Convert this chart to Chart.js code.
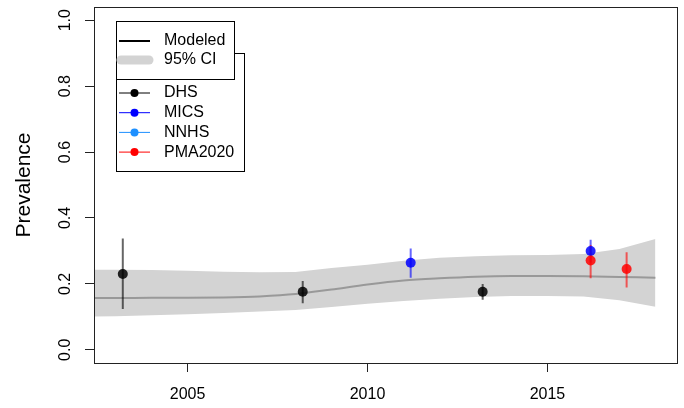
<!DOCTYPE html>
<html>
<head>
<meta charset="utf-8">
<script src="https://cdn.jsdelivr.net/npm/chart.js@4.4.1/dist/chart.umd.min.js"></script>
<style>
  html, body { margin: 0; padding: 0; background: #fff; }
</style>
</head>
<body>
<canvas id="chart" width="684" height="408"></canvas>
<script>
// modeled prevalence and its 95% CI, by year
var modelYears = [2002, 2003, 2004, 2005, 2006, 2007, 2008, 2009, 2010, 2011, 2012, 2013, 2014, 2015, 2016, 2017, 2018];
var modeled    = [0.157, 0.157, 0.158, 0.158, 0.159, 0.162, 0.169, 0.183, 0.198, 0.210, 0.217, 0.222, 0.224, 0.224, 0.223, 0.221, 0.219];
var ciLower    = [0.100, 0.102, 0.105, 0.108, 0.112, 0.116, 0.121, 0.130, 0.140, 0.148, 0.155, 0.160, 0.163, 0.163, 0.162, 0.150, 0.131];
var ciUpper    = [0.243, 0.243, 0.242, 0.240, 0.237, 0.235, 0.236, 0.248, 0.258, 0.270, 0.279, 0.284, 0.287, 0.288, 0.291, 0.306, 0.336];

// survey estimates
var dhsYears  = [2003.2, 2008.2, 2013.2];
var dhsValues = [0.230, 0.176, 0.176];
var dhsLower  = [0.124, 0.141, 0.152];
var dhsUpper  = [0.338, 0.209, 0.200];

var micsYears  = [2011.2, 2016.2];
var micsValues = [0.264, 0.300];
var micsLower  = [0.219, 0.265];
var micsUpper  = [0.307, 0.334];

var nnhsYears  = [];
var nnhsValues = [];
var nnhsLower  = [];
var nnhsUpper  = [];

var pmaYears  = [2016.2, 2017.2];
var pmaValues = [0.271, 0.245];
var pmaLower  = [0.217, 0.189];
var pmaUpper  = [0.318, 0.296];

var xTicks = [2005, 2010, 2015];
var yTicks = [0, 0.2, 0.4, 0.6, 0.8, 1.0];

var sourceNames  = ['DHS', 'MICS', 'NNHS', 'PMA2020'];
var sourceColors = ['#000000', '#0000ff', '#1e90ff', '#ff0000'];

var FONT = '"Liberation Sans", Arial, Helvetica, sans-serif';

function pts(xs, ys) {
  return xs.map(function (x, i) { return { x: x, y: ys[i] }; });
}
// vertical segments, broken by gaps
function bars(xs, lo, hi) {
  var out = [];
  xs.forEach(function (x, i) {
    out.push({ x: x, y: lo[i] }, { x: x, y: hi[i] }, { x: x, y: null });
  });
  return out;
}
function rgba(hex, a) {
  var n = parseInt(hex.slice(1), 16);
  return 'rgba(' + (n >> 16) + ',' + ((n >> 8) & 255) + ',' + (n & 255) + ',' + a + ')';
}

var surveys = [
  [dhsYears, dhsValues, dhsLower, dhsUpper],
  [micsYears, micsValues, micsLower, micsUpper],
  [nnhsYears, nnhsValues, nnhsLower, nnhsUpper],
  [pmaYears, pmaValues, pmaLower, pmaUpper]
];

var datasets = [
  { label: 'lower', data: pts(modelYears, ciLower), borderWidth: 0, pointRadius: 0, fill: false, order: 20, clip: 0 },
  { label: '95% CI', data: pts(modelYears, ciUpper), borderWidth: 0, pointRadius: 0, fill: '-1',
    backgroundColor: '#d3d3d3', order: 19, clip: 0 },
  { label: 'Modeled', data: pts(modelYears, modeled), borderColor: '#999999', borderWidth: 2,
    pointRadius: 0, fill: false, order: 18, clip: 0, cubicInterpolationMode: 'monotone' }
];
surveys.forEach(function (s, i) {
  datasets.push({
    label: sourceNames[i] + ' CI', data: bars(s[0], s[2], s[3]), borderColor: rgba(sourceColors[i], 0.6),
    borderWidth: 2, pointRadius: 0, spanGaps: false, fill: false, order: 14 - i
  });
});
surveys.forEach(function (s, i) {
  datasets.push({
    label: sourceNames[i], data: pts(s[0], s[1]), showLine: false, pointRadius: 5, pointBorderWidth: 0,
    pointBackgroundColor: rgba(sourceColors[i], 0.85), borderColor: 'transparent', order: 8 - i
  });
});

var framePlugin = {
  id: 'frame',
  afterDraw: function (chart) {
    var ctx = chart.ctx, a = chart.chartArea, ys = chart.scales.y;
    ctx.save();
    ctx.strokeStyle = '#222';
    ctx.lineWidth = 1;
    ctx.strokeRect(Math.round(a.left) + 0.5, Math.round(a.top) + 0.5,
      Math.round(a.right - a.left), Math.round(a.bottom - a.top));

    // y tick labels, rotated like R
    ctx.fillStyle = '#000';
    ctx.font = '16px ' + FONT;
    ctx.textAlign = 'center';
    ctx.textBaseline = 'middle';
    yTicks.forEach(function (v) {
      ctx.save();
      ctx.translate(a.left - 28, ys.getPixelForValue(v));
      ctx.rotate(-Math.PI / 2);
      ctx.fillText(v.toFixed(1), 0, 0);
      ctx.restore();
    });

    // legend: two overlapping boxes
    function box(x, y, w, h) {
      ctx.fillStyle = '#fff';
      ctx.fillRect(x, y, w, h);
      ctx.strokeStyle = '#000';
      ctx.strokeRect(x + 0.5, y + 0.5, w, h);
    }
    box(116, 53, 128, 118);
    box(116, 21, 118, 58);

    ctx.textAlign = 'left';
    ctx.lineCap = 'butt';
    ctx.strokeStyle = '#000';
    ctx.lineWidth = 2;
    ctx.beginPath(); ctx.moveTo(119, 41); ctx.lineTo(150, 41); ctx.stroke();
    ctx.lineCap = 'round';
    ctx.strokeStyle = '#d3d3d3';
    ctx.lineWidth = 9;
    ctx.beginPath(); ctx.moveTo(121, 60); ctx.lineTo(149, 60); ctx.stroke();
    ctx.fillStyle = '#000';
    ctx.fillText('Modeled', 164, 41);
    ctx.fillText('95% CI', 164, 60);

    ctx.lineCap = 'butt';
    sourceNames.forEach(function (name, i) {
      var y = 93 + i * 19.7;
      ctx.strokeStyle = sourceColors[i];
      ctx.lineWidth = 1;
      ctx.beginPath(); ctx.moveTo(119, y); ctx.lineTo(150, y); ctx.stroke();
      ctx.fillStyle = sourceColors[i];
      ctx.beginPath(); ctx.arc(134.5, y, 4, 0, Math.PI * 2); ctx.fill();
      ctx.fillStyle = '#000';
      ctx.fillText(name, 164, y);
    });
    ctx.restore();
  }
};

new Chart(document.getElementById('chart'), {
  type: 'line',
  data: { datasets: datasets },
  plugins: [framePlugin],
  options: {
    responsive: false,
    animation: false,
    devicePixelRatio: 1,
    layout: { padding: { top: 7, right: 7, left: 0, bottom: 0 } },
    plugins: { legend: { display: false }, tooltip: { enabled: false } },
    scales: {
      x: {
        type: 'linear',
        min: 2002.4,
        max: 2018.6,
        afterBuildTicks: function (s) { s.ticks = xTicks.map(function (v) { return { value: v }; }); },
        afterFit: function (s) { s.height = 45; },
        ticks: {
          autoSkip: false, maxRotation: 0, padding: 13, color: '#000',
          font: { family: FONT, size: 16 },
          callback: function (v) { return String(v); }
        },
        grid: { drawOnChartArea: false, drawTicks: true, tickLength: 9, color: '#222' },
        border: { display: false }
      },
      y: {
        type: 'linear',
        min: -0.04,
        max: 1.04,
        afterBuildTicks: function (s) { s.ticks = yTicks.map(function (v) { return { value: v }; }); },
        afterFit: function (s) { s.width = 94; },
        ticks: { display: false },
        grid: { drawOnChartArea: false, drawTicks: true, tickLength: 9, color: '#222' },
        border: { display: false },
        title: {
          display: true, text: 'Prevalence', color: '#000',
          font: { family: FONT, size: 21 }, padding: { top: 12, bottom: 0 }
        }
      }
    }
  }
});
</script>
</body>
</html>
